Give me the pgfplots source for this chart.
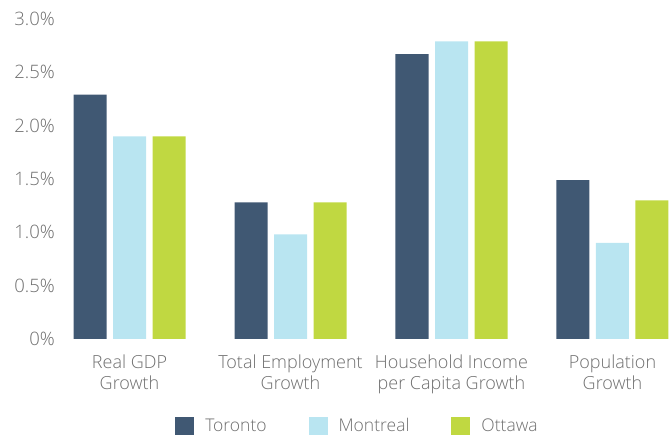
\documentclass[border=0pt]{standalone}
\usepackage{pgfplots}
\pgfplotsset{compat=1.18}
\usepackage{fontspec}
\setmainfont{Open Sans Light}
\definecolor{toronto}{HTML}{405873}
\definecolor{montreal}{HTML}{B9E5F1}
\definecolor{ottawa}{HTML}{C0D841}
\definecolor{txt}{HTML}{6E6E6E}
\begin{document}
\begin{tikzpicture}
\begin{axis}[
  at={(0,0)}, anchor=south west,
  scale only axis, width=609pt, height=320pt,
  xmin=-0.4193, xmax=3.3634, ymin=0, ymax=3,
  ybar=6.5pt, bar width=33pt,
  axis line style={draw=none}, tick style={draw=none},
  xtick={0,1,2,3},
  xticklabels={{Real GDP\\Growth},{Total Employment\\Growth},{Household Income\\per Capita Growth},{Population\\Growth}},
  xticklabel style={align=center, font=\fontsize{18}{21}\selectfont, text=txt, inner sep=0pt, anchor=north, yshift=-11pt},
  ytick={0,0.5,1,1.5,2,2.5,3},
  yticklabels={0\%,0.5\%,1.0\%,1.5\%,2.0\%,2.5\%,3.0\%},
  yticklabel style={font=\fontsize{18.5}{21}\selectfont, text=txt, inner sep=0pt, anchor=east, xshift=-7pt},
  legend columns=3,
  legend style={draw=none, fill=none, at={(axis description cs:0.4836,-0.2720)}, anchor=center,
    font=\fontsize{17.5}{21}\selectfont, text=txt, inner sep=0pt,
    nodes={inner sep=0pt},
    /tikz/every odd column/.append style={column sep=11pt},
    /tikz/every even column/.append style={column sep=42pt}},
  legend image code/.code={\path[#1,draw=none] (0pt,-9pt) rectangle (19pt,9pt);},
]
\addplot[fill=toronto, draw=none] coordinates {(0,2.29) (1,1.28) (2,2.67) (3,1.49)};
\addplot[fill=montreal, draw=none] coordinates {(0,1.90) (1,0.98) (2,2.79) (3,0.90)};
\addplot[fill=ottawa, draw=none] coordinates {(0,1.90) (1,1.28) (2,2.79) (3,1.30)};
\legend{Toronto,Montreal,Ottawa}
\end{axis}
\pgfresetboundingbox
\path[use as bounding box] (-62pt,-99pt) rectangle (610pt,339pt);
\end{tikzpicture}
\end{document}
